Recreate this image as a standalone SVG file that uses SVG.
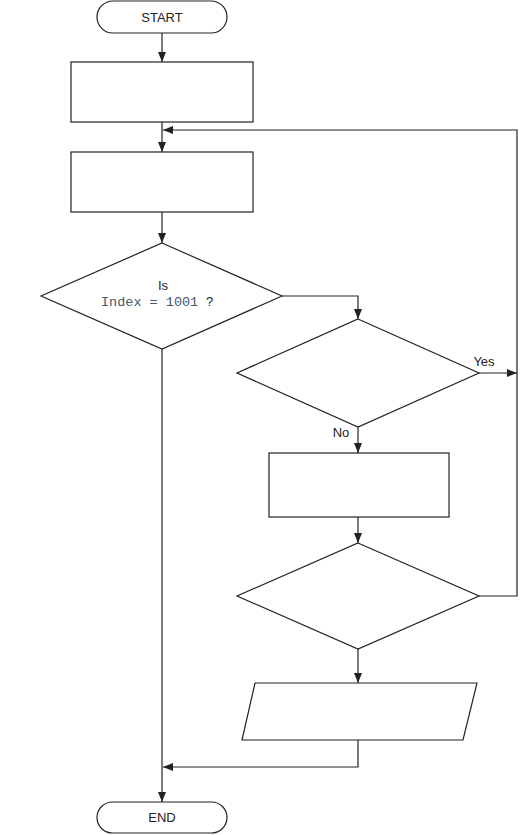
<svg xmlns="http://www.w3.org/2000/svg" width="522" height="835" viewBox="0 0 522 835">
<style>
.shape{fill:#fff;stroke:#222;stroke-width:1.2}
.conn{fill:none;stroke:#222;stroke-width:1.2}
.lbl{font-family:"Liberation Sans",Arial,sans-serif;font-size:13px;fill:#222}
.mono{font-family:"Liberation Mono","Courier New",monospace;font-size:13.5px;fill:#46566a}
</style>
<defs>
<marker id="arr" markerUnits="userSpaceOnUse" markerWidth="10" markerHeight="8" refX="10" refY="4" orient="auto">
<path d="M0,0 L10,4 L0,8 z" fill="#222"/>
</marker>
</defs>
<rect width="522" height="835" fill="#fff"/>
<g id="connectors">
<path class="conn" d="M162,33 V62" marker-end="url(#arr)"/>
<path class="conn" d="M162,122 V152" marker-end="url(#arr)"/>
<path class="conn" d="M162,212 V243" marker-end="url(#arr)"/>
<path class="conn" d="M282,296 H358 V319" marker-end="url(#arr)"/>
<path class="conn" d="M479,373 H517" marker-end="url(#arr)"/>
<path class="conn" d="M479,596 H517 V130 H163" marker-end="url(#arr)"/>
<path class="conn" d="M358,427 V453" marker-end="url(#arr)"/>
<path class="conn" d="M358,517 V543" marker-end="url(#arr)"/>
<path class="conn" d="M358,649 V683" marker-end="url(#arr)"/>
<path class="conn" d="M358,740 V767 H163" marker-end="url(#arr)"/>
<path class="conn" d="M162,349 V802" marker-end="url(#arr)"/>
<text class="lbl" x="484" y="366" text-anchor="middle">Yes</text>
<text class="lbl" x="341" y="437" text-anchor="middle">No</text>
</g>
<g id="start">
<rect class="shape" x="97" y="1" width="130" height="32" rx="16"/>
<text class="lbl" x="162" y="21.5" text-anchor="middle">START</text>
</g>
<g id="box1"><rect class="shape" x="71" y="62" width="182" height="60"/></g>
<g id="box2"><rect class="shape" x="71" y="152" width="182" height="60"/></g>
<g id="decision1">
<polygon class="shape" points="162,243 282,296 162,349 41,296"/>
<text class="lbl" x="163" y="290" text-anchor="middle">Is</text>
<text class="mono" x="101" y="306">Index = 1001</text>
<text class="lbl" x="206" y="306">?</text>
</g>
<g id="decision2"><polygon class="shape" points="358,319 479,373 358,427 237,373"/></g>
<g id="box3"><rect class="shape" x="269" y="453" width="180" height="64"/></g>
<g id="decision3"><polygon class="shape" points="358,543 479,596 358,649 237,596"/></g>
<g id="io"><polygon class="shape" points="255,683 477,683 463,740 242,740"/></g>
<g id="end">
<rect class="shape" x="97" y="802" width="130" height="31" rx="15.5"/>
<text class="lbl" x="162" y="822" text-anchor="middle">END</text>
</g>
</svg>
